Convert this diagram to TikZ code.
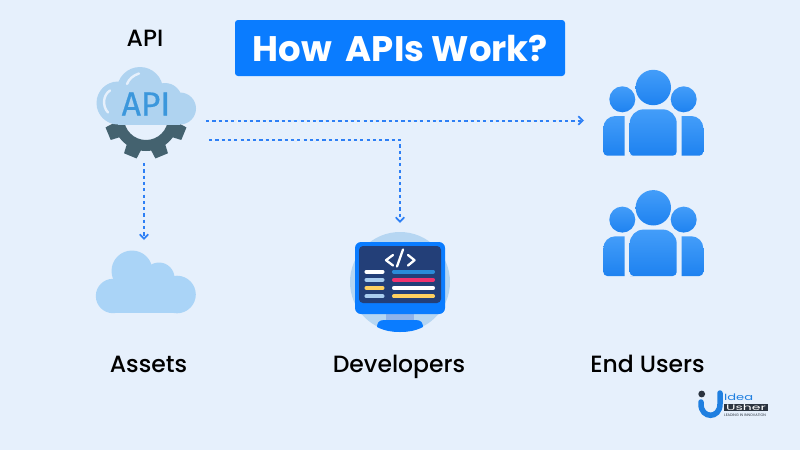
\documentclass[tikz,border=0pt]{standalone}
\usepackage{fontspec}
\setmainfont{Poppins}
\newfontfamily\captionface{Poppins Medium}
\newfontfamily\cloudface[FakeBold=0.6]{Fira Sans}
\usetikzlibrary{arrows.meta,calc}
\definecolor{pagebg}{HTML}{E6F0FC}
\definecolor{brandblue}{HTML}{0A7CFF}
\definecolor{linkblue}{HTML}{2D7FF5}
\definecolor{cloudsoft}{HTML}{AAD4F7}
\definecolor{cloudapi}{HTML}{AFD3F0}
\definecolor{gearslate}{HTML}{44626F}
\definecolor{apitext}{HTML}{3B97DC}
\definecolor{halo}{HTML}{B6D6F2}
\definecolor{screennavy}{HTML}{233F78}
\definecolor{neck}{HTML}{8FB3EA}
\definecolor{barblue}{HTML}{2A8BD8}
\definecolor{barpink}{HTML}{F0326E}
\definecolor{baryellow}{HTML}{FFD060}
\definecolor{barpale}{HTML}{A9CDEF}
\definecolor{userlight}{HTML}{439DF9}
\definecolor{userdeep}{HTML}{1E82F0}
\definecolor{logoblue}{HTML}{1F7FE0}
\definecolor{logodark}{HTML}{2B3440}
\tikzset{
  x=1pt,y=-1pt,
  caption/.style={font=\captionface\fontsize{23.5}{26}\selectfont,text=black,inner sep=0pt,anchor=base},
  link/.style={draw=linkblue,line width=2pt,dash pattern=on 3.2pt off 3.1pt,
    -{Straight Barb[length=4.5pt,width=8.5pt,line width=1.7pt,color=linkblue]}},
  userfill/.style={top color=userlight,bottom color=userdeep,draw=none},
  screenbar/.style={line width=4.1pt,line cap=round},
  coderule/.style={draw=white,line width=2.3pt,line cap=round,line join=round},
  gleam/.style={draw=pagebg,line width=2.4pt,line cap=round},
}
% one group of three people; #1 is the vertical offset
\newcommand{\peoplegroup}[1]{%
  \begin{scope}[yshift=-#1pt]
    \shade[userfill] (653.3,87.5) circle [radius=17.7];
    \shade[userfill] (622.3,99.3) circle [radius=13];
    \shade[userfill] (683.7,99.3) circle [radius=13];
    \shade[userfill] (634,155.7) [rounded corners=4pt] -- (629.7,155.7)
      [rounded corners=14pt] -- (629.7,109.3) -- (676.7,109.3)
      [rounded corners=4pt] -- (676.7,155.7) -- cycle;
    \shade[userfill] (624.7,155.7) [rounded corners=4pt] -- (603.3,155.7)
      [rounded corners=12pt] -- (603.3,116) [sharp corners] -- (624.7,116) -- cycle;
    \shade[userfill] (681.7,155.7) [sharp corners] -- (681.7,116)
      [rounded corners=12pt] -- (703.3,116)
      [rounded corners=4pt] -- (703.3,155.7) [sharp corners] -- cycle;
  \end{scope}}
\begin{document}
\begin{tikzpicture}
  \useasboundingbox (0,0) rectangle (800,450);
  \fill[pagebg] (0,0) rectangle (800,450);

  % title banner
  \fill[brandblue,rounded corners=3pt] (235,20) rectangle (565,76);
  \node[inner sep=0pt,text=white,font=\fontsize{35.5}{40}\selectfont\bfseries] (title) at (400.5,48) {How \,APIs Work?};

  % captions
  \node[caption] (apilabel) at (145,46) {API};
  \node[caption] (assets) at (148.5,372) {Assets};
  \node[caption] (developers) at (399,372) {Developers};
  \node[caption] (endusers) at (647.5,372) {End Users};

  % gear under the API cloud
  \begin{scope}
    \clip (90,122) rectangle (200,165);
    \fill[gearslate,even odd rule] (146,118) circle [radius=33] (146,118) circle [radius=22];
    \foreach \a in {-67.5,-22.5,22.5,67.5}{
      \begin{scope}[shift={(146,118)},rotate=\a]
        \fill[gearslate] (-8,28) -- (8,28) -- (6.8,41) -- (-6.8,41) -- cycle;
      \end{scope}}
  \end{scope}

  % API cloud
  \fill[cloudapi] (140,90) circle [radius=23];
  \fill[cloudapi] (118,103) circle [radius=21.5];
  \fill[cloudapi] (165,100) circle [radius=17];
  \fill[cloudapi] (180,108.5) circle [radius=16];
  \fill[cloudapi] (118,104) rectangle (180,124.5);
  \draw[gleam] (127,84) .. controls (129,79) and (133,75.5) .. (139,73.5);
  \draw[gleam] (110,90.5) .. controls (103,95) and (102,106) .. (108,112.5);
  \node[inner sep=0pt,text=apitext,font=\cloudface\fontsize{33.5}{36}\selectfont] (apimark) at (146,104) {API};

  % plain cloud for the assets
  \fill[cloudsoft] (132,271) circle [radius=20.5];
  \fill[cloudsoft] (159,278) circle [radius=15.5];
  \fill[cloudsoft] (177,294.5) circle [radius=18.8];
  \fill[cloudsoft] (113,296) circle [radius=17.2];
  \fill[cloudsoft] (113,285) rectangle (177,313.2);

  % developer monitor
  \fill[halo] (400,282) circle [radius=50];
  \fill[neck] (386,312) rectangle (414,322);
  \fill[brandblue,rounded corners=6pt] (355,242) rectangle (445,314);
  \fill[screennavy,rounded corners=4pt] (359,246) rectangle (441,303);
  \fill[brandblue] (377,327) .. controls (377,323) and (379,320) .. (384,320)
    -- (416,320) .. controls (421,320) and (423,323) .. (423,327)
    .. controls (415,331) and (408,332) .. (400,332) .. controls (392,332) and (385,331) .. (377,327) -- cycle;
  \draw[screenbar,white] (366.5,271.7) -- (382.5,271.7);
  \draw[screenbar,barpale] (366.5,279.8) -- (382.5,279.8);
  \draw[screenbar,baryellow] (366.5,288) -- (382.5,288);
  \draw[screenbar,barpale] (366.5,296.3) -- (382.5,296.3);
  \draw[screenbar,barblue] (394,271.7) -- (433,271.7);
  \draw[screenbar,barpink] (394,279.8) -- (433,279.8);
  \draw[screenbar,white] (394,288) -- (433,288);
  \draw[screenbar,baryellow] (394,296.3) -- (433,296.3);
  \draw[coderule] (393,255) -- (386,260.2) -- (393,265.5);
  \draw[coderule] (403,249.5) -- (397,266.5);
  \draw[coderule] (408,255) -- (414.5,260.2) -- (408,265.5);

  % end users
  \peoplegroup{0}
  \peoplegroup{120.3}

  % connectors
  \coordinate (apiEast) at (206,120.5);
  \coordinate (usersWest) at (584,120.5);
  \coordinate (apiEastLow) at (209,140);
  \coordinate (devNorth) at (400,223);
  \coordinate (apiSouth) at (144,163);
  \coordinate (assetsNorth) at (144,240);
  \draw[link] (apiEast) -- (usersWest);
  \draw[link] (apiEastLow) -| (devNorth);
  \draw[link] (apiSouth) -- (assetsNorth);

  % company mark
  \fill[logodark] (701.7,394) circle [radius=3.4];
  \draw[logoblue,line width=5.5pt,line cap=round] (701,402) -- (701,404)
    .. controls (701,419) and (720,419) .. (720,404) -- (720,393);
  \node[inner sep=0pt,anchor=west,text=logoblue,font=\fontsize{9}{10}\selectfont] (logoidea) at (724,397.3) {\scalebox{1.45}[1]{Idea}};
  \fill[logodark] (724,404) rectangle (768,411);
  \node[inner sep=0pt,text=white,anchor=center,font=\fontsize{8}{9}\selectfont] (logousher) at (746,407.5) {\scalebox{1.75}[1]{Usher}};
  \node[inner sep=0pt,anchor=west,text=logodark,font=\fontsize{3.6}{4}\selectfont] (logotag) at (724,415) {LEADING IN INNOVATION};
\end{tikzpicture}
\end{document}
